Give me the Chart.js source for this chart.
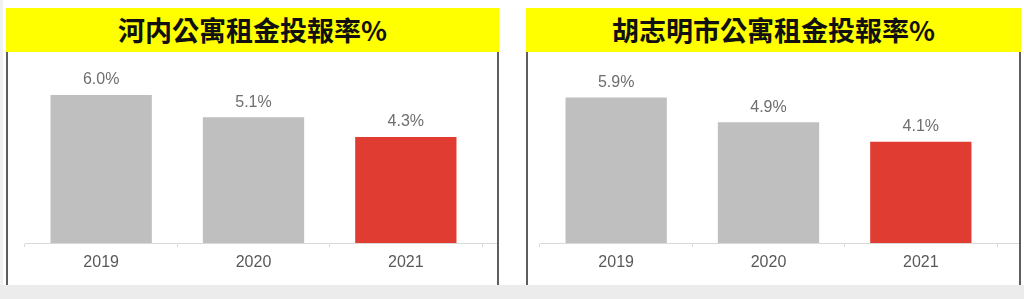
<!DOCTYPE html>
<html>
<head>
<meta charset="utf-8">
<script src="https://cdn.jsdelivr.net/npm/chart.js@4.4.1/dist/chart.umd.min.js"></script>
<style>
  html, body { margin: 0; padding: 0; background: #fff; }
  body { width: 1024px; height: 299px; position: relative; overflow: hidden; font-family: "Liberation Sans", Arial, sans-serif; }
  .band { position: absolute; left: 0; top: 285px; width: 1024px; height: 14px; background: #ececec; }
  .edge { position: absolute; left: 0; top: 0; width: 3px; height: 285px; background: #f1f1f1; }
  .panel { position: absolute; top: 8px; height: 277px; }
  .panel .head {
    position: absolute; left: 0; top: 0; right: 0; height: 44px; background: #ffff00;
    font-family: "Noto Sans CJK TC", "Noto Sans CJK SC", sans-serif; font-weight: 700;
    font-size: 27px; line-height: 44px; text-align: center; color: #111;
  }
  .panel .body {
    position: absolute; left: 0; right: 0; top: 44px; bottom: 0;
    border-left: 2px solid #5e5e5e; border-right: 2px solid #5e5e5e; background: #fff;
  }
  .panel canvas { position: absolute; left: 0; top: 0; }
</style>
</head>
<body>
<div class="edge"></div>
<div class="band"></div>

<div class="panel" id="p1" style="left:6px; width:493px;">
  <div class="head">河内公寓租金投報率%</div>
  <div class="body"><canvas id="hanoi" width="489" height="233"></canvas></div>
</div>

<div class="panel" id="p2" style="left:526px; width:495px;">
  <div class="head">胡志明市公寓租金投報率%</div>
  <div class="body"><canvas id="hcmc" width="491" height="233"></canvas></div>
</div>

<script>
// data
const years = ['2019', '2020', '2021'];
const hanoiYield = [6.0, 5.1, 4.3];
const hcmcYield = [5.9, 4.9, 4.1];
const barColors = ['#bfbfbf', '#bfbfbf', '#e03c31'];

// value labels above bars
const valueLabels = {
  id: 'valueLabels',
  afterDatasetsDraw(chart) {
    const ctx = chart.ctx;
    const ds = chart.data.datasets[0];
    chart.getDatasetMeta(0).data.forEach((bar, i) => {
      ctx.save();
      ctx.font = '16px "Liberation Sans", Arial, sans-serif';
      ctx.fillStyle = '#6e6e6e';
      ctx.textAlign = 'center';
      ctx.textBaseline = 'bottom';
      ctx.fillText(ds.data[i].toFixed(1) + '%', bar.x, bar.y - 7);
      ctx.restore();
    });
  }
};

// axis line runs on past the last category up to the panel edge
const axisRunout = {
  id: 'axisRunout',
  afterDraw(chart) {
    const ctx = chart.ctx;
    const area = chart.chartArea;
    ctx.save();
    ctx.strokeStyle = '#d9d9d9';
    ctx.lineWidth = 1;
    ctx.beginPath();
    ctx.moveTo(area.right, area.bottom + 0.5);
    ctx.lineTo(chart.width, area.bottom + 0.5);
    ctx.stroke();
    ctx.restore();
  }
};

function makeChart(id, values, padLeft, padRight) {
  return new Chart(document.getElementById(id), {
    type: 'bar',
    data: {
      labels: years,
      datasets: [{
        data: values,
        backgroundColor: barColors,
        categoryPercentage: 1,
        barPercentage: 0.665
      }]
    },
    options: {
      responsive: false,
      devicePixelRatio: 1,
      animation: false,
      layout: { padding: { top: 6, bottom: 0, left: padLeft, right: padRight } },
      plugins: { legend: { display: false }, tooltip: { enabled: false } },
      scales: {
        y: { display: false, min: 0, max: 7.5 },
        x: {
          afterFit: (scale) => { scale.height = 42; },
          border: { display: true, color: '#d9d9d9', width: 1 },
          grid: { offset: true, drawOnChartArea: false, drawTicks: true, tickLength: 4, color: '#d9d9d9' },
          ticks: { color: '#595959', padding: 6, font: { family: '"Liberation Sans", Arial, sans-serif', size: 16 } }
        }
      }
    },
    plugins: [valueLabels, axisRunout]
  });
}

makeChart('hanoi', hanoiYield, 17, 15);
makeChart('hcmc', hcmcYield, 12, 22);
</script>
</body>
</html>
